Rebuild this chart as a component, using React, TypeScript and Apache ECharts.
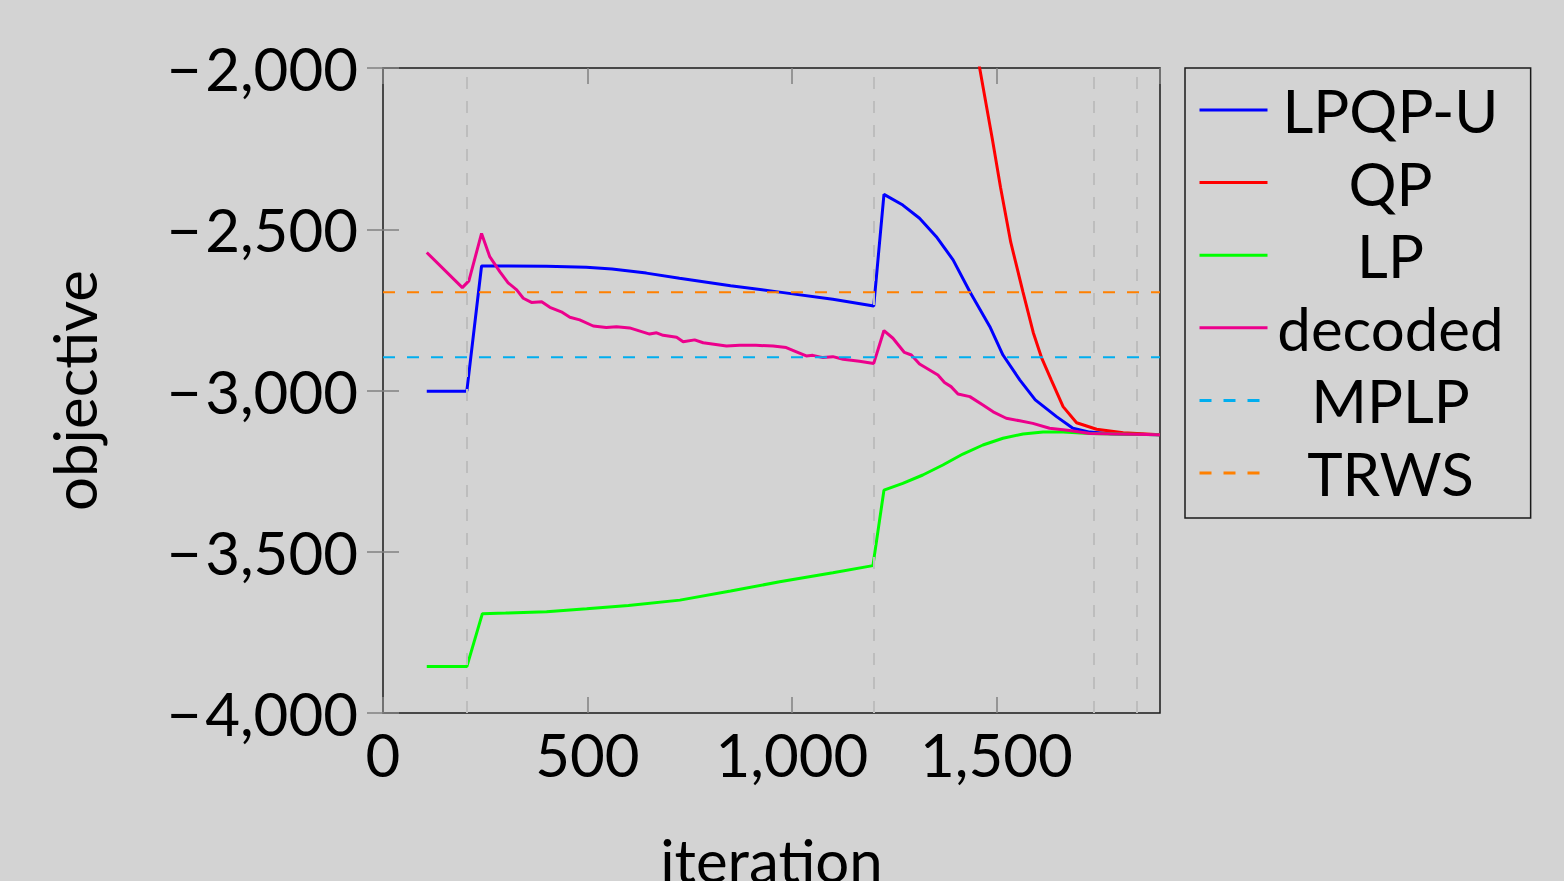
import React, { useEffect, useRef } from "react";
import * as echarts from "echarts";

const FONT = "Lato";

const lpqpU: [number, number][] = [
  [107, -3002], [205, -3002], [241, -2614], [300, -2614], [400, -2615], [497, -2618],
  [560, -2623], [644, -2636], [725, -2652], [850, -2675], [970, -2695], [1100, -2717],
  [1200, -2738], [1225, -2392], [1271, -2425], [1312, -2466], [1353, -2523], [1394, -2595],
  [1435, -2694], [1484, -2802], [1516, -2890], [1557, -2967], [1595, -3029], [1647, -3081],
  [1687, -3117], [1728, -3129], [1780, -3134], [1900, -3137],
];

const qp: [number, number][] = [
  [1420, -1670], [1459, -2000], [1490, -2220], [1510, -2370], [1535, -2540], [1565, -2695],
  [1590, -2820], [1610, -2897], [1634, -2967], [1663, -3050], [1696, -3100], [1745, -3120],
  [1810, -3131], [1900, -3137],
];

const lp: [number, number][] = [
  [107, -3856], [205, -3856], [243, -3692], [300, -3690], [400, -3686], [498, -3677],
  [600, -3667], [726, -3650], [850, -3622], [970, -3593], [1100, -3565], [1198, -3543],
  [1225, -3309], [1271, -3288], [1320, -3262], [1369, -3231], [1418, -3197], [1467, -3169],
  [1516, -3148], [1565, -3135], [1614, -3129], [1663, -3129], [1728, -3133], [1900, -3137],
];

const decoded: [number, number][] = [
  [107, -2572], [194, -2681], [210, -2660], [241, -2513], [261, -2585], [286, -2632],
  [306, -2666], [327, -2688], [343, -2714], [363, -2727], [388, -2725], [408, -2742],
  [436, -2756], [457, -2773], [481, -2781], [514, -2800], [546, -2805], [571, -2802],
  [603, -2806], [652, -2825], [669, -2821], [685, -2829], [718, -2835], [734, -2849],
  [762, -2843], [783, -2852], [840, -2862], [872, -2860], [912, -2860], [954, -2862],
  [986, -2867], [1011, -2880], [1035, -2893], [1051, -2891], [1076, -2898], [1100, -2895],
  [1125, -2903], [1165, -2909], [1200, -2916], [1225, -2814], [1247, -2838], [1275, -2882],
  [1292, -2890], [1312, -2918], [1357, -2952], [1373, -2975], [1389, -2988], [1406, -3011],
  [1435, -3019], [1467, -3045], [1492, -3066], [1524, -3086], [1557, -3094], [1589, -3102],
  [1630, -3117], [1679, -3124], [1728, -3133], [1900, -3137],
];

const mplpValue = -2897;
const trwsValue = -2695;
const phaseMarks = [205, 1200, 1738, 1843];

const legendNames = ["LPQP-U", "QP", "LP", "decoded", "MPLP", "TRWS"];

const X_MIN = 0;
const X_MAX = 1900;
const Y_MIN = -4000;
const Y_MAX = -2000;

function fmt(v: number): string {
  const s = Math.abs(v).toLocaleString("en-US");
  return v < 0 ? "\u2212\u200A" + s : s;
}

export default function App() {
  const ref = useRef<HTMLDivElement>(null);
  useEffect(() => {
    if (!ref.current) return;
    const chart = echarts.init(ref.current, undefined, { renderer: "svg" });
    const tickStyle = { inside: true, length: 16, lineStyle: { color: "#808080", width: 1.5 } };
    const lineSeries = (name: string, data: [number, number][], color: string, dashed = false, extra: any = {}) => ({
      name,
      type: "line",
      data,
      symbol: "none",
      showSymbol: false,
      clip: true,
      lineStyle: { color, width: dashed ? 2 : 3, type: dashed ? [12, 12] : "solid" },
      itemStyle: { color },
      ...extra,
    });
    chart.setOption({
      animation: false,
      backgroundColor: "#d3d3d3",
      textStyle: { fontFamily: FONT },
      grid: {
        left: 383,
        top: 68,
        width: 777,
        height: 645,
        outerBoundsMode: "none",
        containLabel: false,
        show: true,
        borderColor: "#1a1a1a",
        borderWidth: 1.5,
        backgroundColor: "transparent",
      },
      legend: {
        data: legendNames,
        orient: "vertical",
        left: 1185,
        top: 68,
        itemWidth: 68,
        itemHeight: 2,
        itemGap: 12.6,
        padding: [12, 27, 15, 13],
        borderColor: "#1a1a1a",
        borderWidth: 1.5,
        lineStyle: { width: 3 },
        itemStyle: { color: "transparent", borderWidth: 0, opacity: 0 },
        formatter: (name: string) => `{c|${name}}`,
        textStyle: {
          color: "#000",
          fontFamily: FONT,
          fontSize: 60,
          rich: {
            c: { width: 236, align: "center", fontSize: 60, fontFamily: FONT, color: "#000" },
          },
        },
      },
      xAxis: [
        {
          type: "value",
          min: X_MIN,
          max: X_MAX,
          interval: 500,
          name: "iteration",
          nameLocation: "middle",
          nameGap: 117,
          nameTextStyle: { fontSize: 60, fontFamily: FONT, color: "#000" },
          axisLine: { show: false },
          axisTick: tickStyle,
          splitLine: { show: false },
          axisLabel: {
            fontSize: 60,
            fontFamily: FONT,
            color: "#000",
            margin: 11,
            showMaxLabel: false,
            formatter: (v: number) => fmt(v),
          },
        },
        {
          type: "value",
          position: "top",
          min: X_MIN,
          max: X_MAX,
          interval: 500,
          axisLine: { show: false },
          axisTick: tickStyle,
          splitLine: { show: false },
          axisLabel: { show: false },
        },
      ],
      yAxis: [
        {
          type: "value",
          min: Y_MIN,
          max: Y_MAX,
          interval: 500,
          name: "objective",
          nameLocation: "middle",
          nameRotate: 90,
          nameGap: 279,
          nameTextStyle: { fontSize: 60, fontFamily: FONT, color: "#000" },
          axisLine: { show: false },
          axisTick: tickStyle,
          splitLine: { show: false },
          axisLabel: {
            fontSize: 60,
            fontFamily: FONT,
            color: "#000",
            margin: 25,
            formatter: (v: number) => fmt(v),
          },
        },
        {
          type: "value",
          position: "right",
          min: Y_MIN,
          max: Y_MAX,
          interval: 500,
          axisLine: { show: false },
          axisTick: tickStyle,
          splitLine: { show: false },
          axisLabel: { show: false },
        },
      ],
      series: [
        lineSeries("LPQP-U", lpqpU, "#0000ff", false, {
          markLine: {
            silent: true,
            symbol: "none",
            label: { show: false },
            lineStyle: { color: "#bdbdbd", width: 2, type: [12, 12] },
            data: phaseMarks.map((x) => ({ xAxis: x })),
          },
        }),
        lineSeries("QP", qp, "#ff0000"),
        lineSeries("LP", lp, "#00ff00"),
        lineSeries("decoded", decoded, "#ec008c"),
        lineSeries("MPLP", [[X_MIN, mplpValue], [X_MAX, mplpValue]], "#00aeef", true),
        lineSeries("TRWS", [[X_MIN, trwsValue], [X_MAX, trwsValue]], "#ff8000", true),
      ],
    });
    return () => chart.dispose();
  }, []);
  return (
    <div
      ref={ref}
      style={{ position: "fixed", left: 0, top: 0, width: 1564, height: 881, background: "#d3d3d3" }}
    />
  );
}
